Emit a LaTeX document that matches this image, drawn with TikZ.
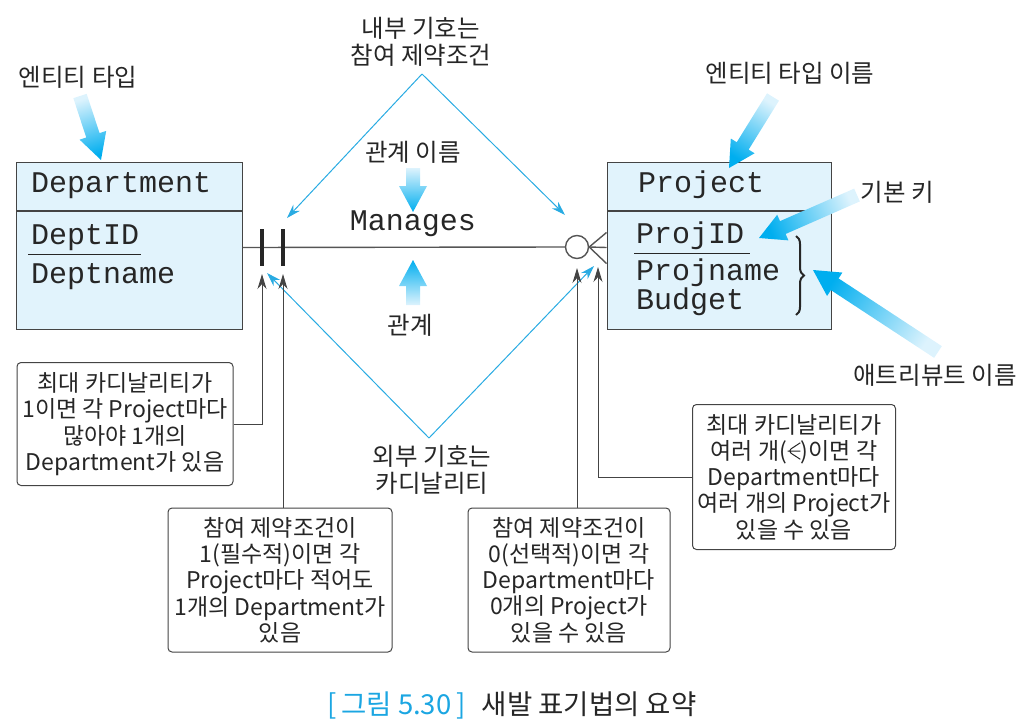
\documentclass[tikz,border=0pt]{standalone}
\usepackage{fontspec}
\setmainfont{Noto Sans CJK KR}
\setmonofont{Liberation Mono}
\usepackage{tikz}
\usetikzlibrary{calc,arrows.meta,decorations.pathreplacing}

\definecolor{entfill}{HTML}{E1F3FC}
\definecolor{boxline}{HTML}{444444}
\definecolor{relgray}{HTML}{555555}
\definecolor{hintblue}{HTML}{29ABE2}
\definecolor{fatblue}{HTML}{00AEEF}
\definecolor{fatlight}{HTML}{DDF3FD}
\definecolor{textdark}{HTML}{262626}
\definecolor{capblue}{HTML}{1BA6E2}

% wide shaded arrow from one named coordinate to another
\newcommand{\fatarrow}[2]{%
  \pgfmathanglebetweenpoints{\pgfpointanchor{#1}{center}}{\pgfpointanchor{#2}{center}}%
  \pgfmathsetmacro\fatsh{\pgfmathresult+90}%
  \coordinate (fb) at ($(#2)!26pt!(#1)$);
  \shade[top color=fatlight, bottom color=fatblue, shading angle=\fatsh]
    ($(#1)!7pt!90:(#2)$) -- ($(fb)!7pt!90:(#2)$) -- ($(fb)!14pt!90:(#2)$) -- (#2)
    -- ($(fb)!14pt!-90:(#2)$) -- ($(fb)!7pt!-90:(#2)$) -- ($(#1)!7pt!-90:(#2)$) -- cycle;
}
% crow's foot sign inside text
\newcommand{\crowsym}{\tikz[baseline=0pt]{\draw[line width=1pt] (0.6em,0.72em) -- (0.05em,0.36em) -- (0.6em,0pt) (0.05em,0.36em) -- (0.6em,0.36em);}}

\begin{document}
\begin{tikzpicture}[
  x=1pt, y=-1pt,
  entity/.style={rectangle, draw=boxline, fill=entfill, line width=1pt},
  attr/.style={anchor=west, inner sep=0pt, text=textdark, font=\ttfamily\fontsize{30}{30}\selectfont},
  note/.style={rectangle, rounded corners=4pt, draw=boxline, line width=1pt, align=center, inner sep=2pt, text=textdark, font=\fontsize{23}{26.3}\selectfont},
  remark/.style={align=center, inner sep=0pt, text=textdark, font=\fontsize{24.5}{27}\selectfont},
  relline/.style={relgray, line width=1.4pt},
  pointer/.style={-{Stealth[length=15pt,width=9pt]}, boxline, line width=1pt},
  hint/.style={-{Stealth[length=14pt,width=9pt]}, hintblue, line width=1pt}
]
\useasboundingbox (0,0) rectangle (1024,723);

% entity types
\node[entity, minimum width=226pt, minimum height=48pt] (dept) at (129,186) {};
\node[entity, minimum width=226pt, minimum height=118pt, anchor=north] (deptattr) at (dept.south) {};
\node[entity, minimum width=224pt, minimum height=48pt] (proj) at (719,186) {};
\node[entity, minimum width=224pt, minimum height=118pt, anchor=north] (projattr) at (proj.south) {};

\node[attr] (depttitle) at (31,186) {Department};
\node[attr] (deptid) at (31,238) {DeptID};
\node[attr] (deptnm) at (31,277) {Deptname};
\draw[textdark, line width=1pt] ($(deptid.south west)+(-3,3)$) -- ($(deptid.south east)+(2,3)$);

\node[attr] (projtitle) at (638,185) {Project};
\node[attr] (projid) at (636,236) {ProjID};
\node[attr] (projnm) at (636,273) {Projname};
\node[attr] (budget) at (636,302) {Budget};
\draw[textdark, line width=1pt] ($(projid.south west)+(-2,3)$) -- ($(projid.south east)+(6,3)$);
\draw[decorate, decoration={brace, amplitude=8pt}, line width=2pt, textdark] (796,236) -- (796,315);

% relationship
\coordinate (relL) at ($(deptattr.north east)+(0,37)$);
\coordinate (relR) at ($(projattr.north west)+(0,37)$);
\node[circle, draw=relgray, line width=1.4pt, fill=white, minimum size=23pt, inner sep=0pt] (opt) at (577,247) {};
\draw[relline] (relL) -- (opt.west);
\draw[relline] (opt.east) -- (relR);
\draw[relline] ($(relR)+(0,-15)$) -- (opt.east) -- ($(relR)+(0,16)$);
\coordinate (bar1) at (262,247);
\coordinate (bar2) at (283,247);
\draw[line width=4pt, textdark] ($(bar1)+(0,-18)$) -- ($(bar1)+(0,19)$);
\draw[line width=4pt, textdark] ($(bar2)+(0,-18)$) -- ($(bar2)+(0,19)$);
\node[attr, anchor=center] (manages) at (413,224) {Manages};

% labels
\node[remark] (enttype) at (78,77) {엔티티 타입};
\node[remark] (entname) at (790,73) {엔티티 타입 이름};
\node[remark] (pkey) at (897,192) {기본 키};
\node[remark] (attrname) at (935,375) {애트리뷰트 이름};
\node[remark] (relname) at (413,152) {관계 이름};
\node[remark] (rel) at (410,325) {관계};
\node[remark] (inner) at (421,42) {내부 기호는\\참여 제약조건};
\node[remark] (outer) at (432,470) {외부 기호는\\카디날리티};

% inner and outer signs
\coordinate (innerTop) at (422,74);
\coordinate (innerL) at (287,218);
\coordinate (innerR) at (565,215);
\coordinate (outerBot) at (429,438);
\coordinate (outerL) at (267,273);
\coordinate (outerR) at (594,266);
\draw[hint] (innerTop) -- (innerL);
\draw[hint] (innerTop) -- (innerR);
\draw[hint] (outerBot) -- (outerL);
\draw[hint] (outerBot) -- (outerR);

% wide arrows
\coordinate (etTail) at (80,96);   \coordinate (etTip) at (101,160);
\coordinate (enTail) at (773,97);  \coordinate (enTip) at (729,168);
\coordinate (pkTail) at (857,195); \coordinate (pkTip) at (759,238);
\coordinate (anTail) at (938,352); \coordinate (anTip) at (813,270);
\coordinate (rnTail) at (413,168); \coordinate (rnTip) at (413,212);
\coordinate (rTail) at (413,305);  \coordinate (rTip) at (413,260);
\fatarrow{etTail}{etTip}
\fatarrow{enTail}{enTip}
\fatarrow{pkTail}{pkTip}
\fatarrow{anTail}{anTip}
\fatarrow{rnTail}{rnTip}
\fatarrow{rTail}{rTip}

% notes
\node[note, minimum width=216pt, minimum height=123pt] (maxone) at (125,424) {최대 카디날리티가\\1이면 각 Project마다\\많아야 1개의\\Department가 있음};
\node[note, minimum width=224pt, minimum height=144pt] (minone) at (280,580) {참여 제약조건이\\1(필수적)이면 각\\Project마다 적어도\\1개의 Department가\\있음};
\node[note, minimum width=202pt, minimum height=144pt] (minzero) at (569,580) {참여 제약조건이\\0(선택적)이면 각\\Department마다\\0개의 Project가\\있을 수 있음};
\node[note, minimum width=203pt, minimum height=145pt] (maxmany) at (794,477) {최대 카디날리티가\\여러 개(\crowsym)이면 각\\Department마다\\여러 개의 Project가\\있을 수 있음};

\coordinate (tipA) at (262,274);
\coordinate (tipB) at (283,274);
\coordinate (tipC) at (577,268);
\coordinate (tipD) at (598,267);
\draw[pointer] (maxone.east) -| (tipA);
\draw[pointer] (minone.north -| tipB) -- (tipB);
\draw[pointer] (minzero.north -| tipC) -- (tipC);
\draw[pointer] (maxmany.west) -| (tipD);

% caption
\node[font=\fontsize{27.5}{30}\selectfont, text=textdark] (caption) at (512,705) {\textcolor{capblue}{[\,그림 5.30\,]}\hspace{0.6em}새발 표기법의 요약};
\end{tikzpicture}
\end{document}
